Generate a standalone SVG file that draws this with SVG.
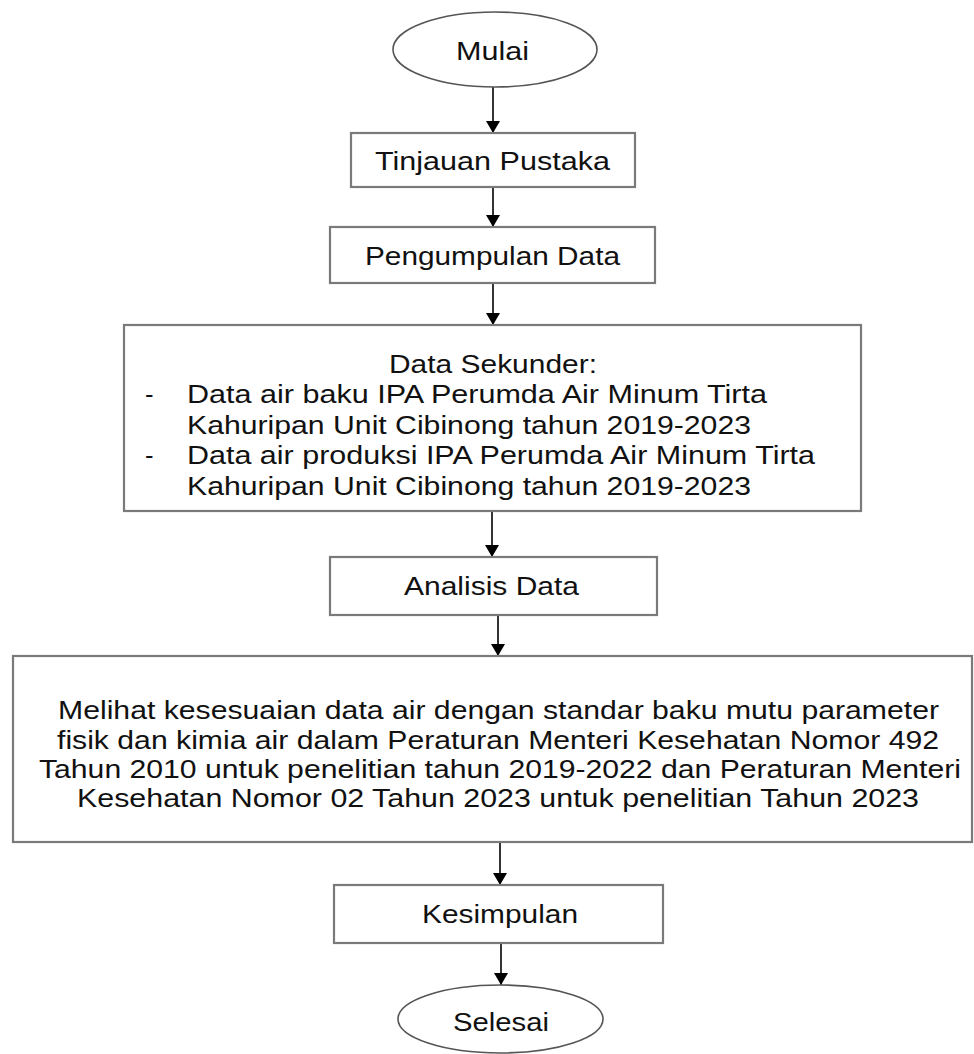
<svg xmlns="http://www.w3.org/2000/svg" width="974" height="1054" viewBox="0 0 974 1054">
<style>
  .box { fill: #ffffff; stroke: #7a7a7a; stroke-width: 2.2; }
  .term { fill: #ffffff; stroke: #555555; stroke-width: 1.6; }
  .t { font-family: "Liberation Sans", Arial, sans-serif; font-size: 25.5px; fill: #111111; }
  .c { text-anchor: middle; }
  .conn line { stroke: #000000; stroke-width: 1.6; }
</style>
<defs>
  <marker id="ah" viewBox="0 0 12 14" refX="12" refY="7" markerWidth="12" markerHeight="14" markerUnits="userSpaceOnUse" orient="auto">
    <path d="M0,0 L12,7 L0,14 Z" fill="#000000"/>
  </marker>
</defs>
<rect width="974" height="1054" fill="#ffffff"/>

<g id="connectors" class="conn">
  <line x1="493" y1="87" x2="493" y2="133" marker-end="url(#ah)"/>
  <line x1="493" y1="188" x2="493" y2="227" marker-end="url(#ah)"/>
  <line x1="493" y1="284" x2="493" y2="325" marker-end="url(#ah)"/>
  <line x1="492" y1="512" x2="492" y2="557" marker-end="url(#ah)"/>
  <line x1="498" y1="616" x2="498" y2="656" marker-end="url(#ah)"/>
  <line x1="500" y1="843" x2="500" y2="885" marker-end="url(#ah)"/>
  <line x1="501" y1="944" x2="501" y2="985" marker-end="url(#ah)"/>
</g>

<g id="mulai">
  <ellipse class="term" cx="495" cy="49.5" rx="102" ry="37.5"/>
  <text class="t c" x="492.5" y="60" textLength="73" lengthAdjust="spacingAndGlyphs">Mulai</text>
</g>

<g id="tinjauan-pustaka">
  <rect class="box" x="351" y="133" width="284" height="54"/>
  <text class="t c" x="492.5" y="170" textLength="235" lengthAdjust="spacingAndGlyphs">Tinjauan Pustaka</text>
</g>

<g id="pengumpulan-data">
  <rect class="box" x="330" y="227" width="325" height="56"/>
  <text class="t c" x="492.5" y="265" textLength="255" lengthAdjust="spacingAndGlyphs">Pengumpulan Data</text>
</g>

<g id="data-sekunder">
  <rect class="box" x="124" y="325" width="737" height="186"/>
  <text class="t c" x="493" y="373" textLength="208" lengthAdjust="spacingAndGlyphs">Data Sekunder:</text>
  <text class="t" x="145" y="403">-</text>
  <text class="t" x="187" y="403" textLength="580" lengthAdjust="spacingAndGlyphs">Data air baku IPA Perumda Air Minum Tirta</text>
  <text class="t" x="187" y="434" textLength="564" lengthAdjust="spacingAndGlyphs">Kahuripan Unit Cibinong tahun 2019-2023</text>
  <text class="t" x="145" y="464">-</text>
  <text class="t" x="187" y="464" textLength="628" lengthAdjust="spacingAndGlyphs">Data air produksi IPA Perumda Air Minum Tirta</text>
  <text class="t" x="187" y="495" textLength="564" lengthAdjust="spacingAndGlyphs">Kahuripan Unit Cibinong tahun 2019-2023</text>
</g>

<g id="analisis-data">
  <rect class="box" x="330" y="557" width="327" height="58"/>
  <text class="t c" x="491.5" y="595" textLength="175" lengthAdjust="spacingAndGlyphs">Analisis Data</text>
</g>

<g id="melihat-kesesuaian">
  <rect class="box" x="13" y="656" width="959" height="186"/>
  <text class="t c" x="498.5" y="719" textLength="881" lengthAdjust="spacingAndGlyphs">Melihat kesesuaian data air dengan standar baku mutu parameter</text>
  <text class="t c" x="498" y="748.5" textLength="882" lengthAdjust="spacingAndGlyphs">fisik dan kimia air dalam Peraturan Menteri Kesehatan Nomor 492</text>
  <text class="t c" x="500" y="778" textLength="922" lengthAdjust="spacingAndGlyphs">Tahun 2010 untuk penelitian tahun 2019-2022 dan Peraturan Menteri</text>
  <text class="t c" x="498" y="807" textLength="842" lengthAdjust="spacingAndGlyphs">Kesehatan Nomor 02 Tahun 2023 untuk penelitian Tahun 2023</text>
</g>

<g id="kesimpulan">
  <rect class="box" x="334" y="885" width="329" height="58"/>
  <text class="t c" x="500" y="923" textLength="156" lengthAdjust="spacingAndGlyphs">Kesimpulan</text>
</g>

<g id="selesai">
  <ellipse class="term" cx="500.5" cy="1019" rx="102.5" ry="34"/>
  <text class="t c" x="501" y="1031" textLength="96" lengthAdjust="spacingAndGlyphs">Selesai</text>
</g>
</svg>
